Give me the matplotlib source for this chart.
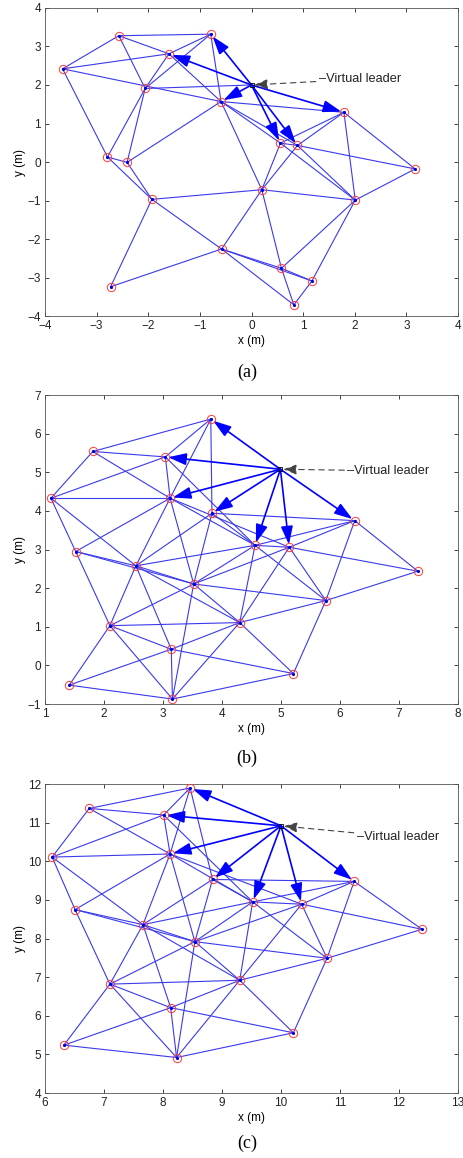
import matplotlib
matplotlib.use("Agg")
import matplotlib.pyplot as plt

plt.rcParams['font.family'] = ['Liberation Sans', 'DejaVu Sans']

# ---- panel (a) ----
a_x = [-2.57, -0.79, -1.60, -3.66, -2.06, -0.59, 1.79, 0.56, 0.89, -2.79,
       -2.41, 3.17, 0.20, -1.93, 2.01, -0.58, 0.58, 1.17, -2.73, 0.82]
a_y = [3.28, 3.32, 2.81, 2.42, 1.91, 1.57, 1.29, 0.49, 0.43, 0.13,
       -0.01, -0.18, -0.72, -0.97, -0.99, -2.26, -2.76, -3.09, -3.24, -3.71]
a_edges = [(0, 1), (0, 2), (0, 3), (0, 4), (1, 2), (1, 4), (1, 5), (2, 3), (2, 4),
           (2, 5), (3, 5), (3, 9), (4, 9), (4, 10), (5, 10), (5, 6), (5, 7), (5, 8),
           (5, 12), (6, 7), (6, 8), (6, 11), (6, 14), (7, 8), (7, 12), (8, 12),
           (8, 11), (7, 14), (8, 14), (11, 14), (12, 13), (12, 14), (12, 15),
           (12, 16), (9, 10), (9, 13), (10, 13), (13, 15), (13, 18), (15, 18),
           (15, 16), (15, 17), (14, 16), (14, 17), (16, 19), (17, 19), (15, 19),
           (16, 17)]
a_leader = (0.0, 2.0)
a_leader_links = [4]
a_arrows = [1, 2, 5, 6, 7, 8]

# ---- panels (b) and (c) share the same graph ----
bc_edges_1based = [
    (1, 2), (1, 3), (1, 5), (1, 6),
    (2, 3), (2, 4), (2, 5),
    (3, 4), (3, 5), (3, 8),
    (4, 5), (4, 10), (4, 12),
    (5, 10), (5, 12), (5, 13), (5, 8), (5, 9),
    (6, 12), (6, 13), (6, 8), (6, 7),
    (7, 8), (7, 9), (7, 11), (7, 14),
    (8, 9), (8, 12), (8, 13), (8, 14), (8, 16),
    (9, 11), (9, 13), (9, 14), (9, 16),
    (10, 12), (10, 13), (10, 15),
    (12, 13), (12, 15), (12, 16), (12, 17),
    (13, 14), (13, 15), (13, 16), (13, 20),
    (14, 16), (14, 18), (14, 11),
    (15, 16), (15, 17), (15, 19), (15, 20),
    (16, 17), (16, 18), (16, 20),
    (17, 18), (17, 19), (17, 20),
    (19, 20), (18, 20)]
bc_edges = [(i - 1, j - 1) for i, j in bc_edges_1based]
bc_arrows = [0, 2, 4, 5, 6, 7, 8]

b_x = [3.81, 1.81, 3.04, 1.10, 3.12, 3.83, 6.25, 4.56, 5.14, 1.52,
       7.32, 2.54, 3.52, 5.76, 2.10, 4.30, 3.14, 5.21, 1.41, 3.16]
b_y = [6.38, 5.54, 5.40, 4.33, 4.33, 3.94, 3.75, 3.11, 3.06, 2.95,
       2.44, 2.58, 2.11, 1.68, 1.03, 1.11, 0.42, -0.21, -0.51, -0.87]
b_leader = (4.99, 5.08)

c_x = [8.46, 6.75, 8.01, 6.12, 8.12, 8.84, 11.24, 9.52, 10.35, 6.51,
       12.39, 7.66, 8.54, 10.78, 7.10, 9.30, 8.13, 10.21, 6.32, 8.23]
c_y = [11.90, 11.37, 11.20, 10.11, 10.19, 9.53, 9.48, 8.95, 8.89, 8.75,
       8.24, 8.36, 7.92, 7.49, 6.82, 6.92, 6.21, 5.56, 5.24, 4.92]
c_leader = (10.0, 10.92)

panels = [
    dict(x=a_x, y=a_y, edges=a_edges, leader=a_leader, links=a_leader_links,
         arrows=a_arrows, xlim=(-4, 4), ylim=(-4, 4), text=(1.3, 2.15),
         caption='(a)', rect=[0.0972, 0.7271, 0.892, 0.266], cap_y=1 - 372 / 1158),
    dict(x=b_x, y=b_y, edges=bc_edges, leader=b_leader, links=[],
         arrows=bc_arrows, xlim=(1, 8), ylim=(-1, 7), text=(6.12, 5.04),
         caption='(b)', rect=[0.0972, 0.392, 0.892, 0.2668], cap_y=1 - 758 / 1158),
    dict(x=c_x, y=c_y, edges=bc_edges, leader=c_leader, links=[],
         arrows=bc_arrows, xlim=(6, 13), ylim=(4, 12), text=(11.28, 10.63),
         caption='(c)', rect=[0.0972, 0.0561, 0.892, 0.2668], cap_y=1 - 1143 / 1158),
]

fig = plt.figure(figsize=(4.63, 11.58), dpi=100)
edge_col = '#3a3aee'

for p in panels:
    ax = fig.add_axes(p['rect'])
    x, y = p['x'], p['y']
    lx, ly = p['leader']
    for i, j in p['edges']:
        ax.plot([x[i], x[j]], [y[i], y[j]], color=edge_col, lw=0.8, zorder=2)
    for i in p['links']:
        ax.plot([x[i], lx], [y[i], ly], color=edge_col, lw=0.8, zorder=2)
    for t in p['arrows']:
        ax.annotate('', xy=(x[t], y[t]), xytext=(lx, ly), zorder=3,
                    arrowprops=dict(arrowstyle='-|>,head_length=1.0,head_width=0.33',
                                    color='#0000ff', lw=1.2, shrinkA=0, shrinkB=2,
                                    mutation_scale=11))
    ax.plot(x, y, 'o', ms=6, mfc='none', mec='#ff3b3b', mew=0.7, zorder=4)
    ax.plot(x, y, '.', ms=2.5, color='#0000cc', zorder=5)
    ax.plot([lx], [ly], 's', ms=3.5, mfc='none', mec='k', mew=0.6, zorder=5)
    ax.annotate('–Virtual leader', xy=(lx, ly), xytext=p['text'], ha='left', va='center',
                fontsize=9.2, color='#222222', zorder=6,
                arrowprops=dict(arrowstyle='-|>,head_length=0.8,head_width=0.3',
                                color='#444444', lw=0.8, ls=(0, (5, 4)), shrinkA=0, shrinkB=2,
                                mutation_scale=10))
    ax.set_xlim(*p['xlim'])
    ax.set_ylim(*p['ylim'])
    ax.set_xticks(range(p['xlim'][0], p['xlim'][1] + 1))
    ax.set_yticks(range(p['ylim'][0], p['ylim'][1] + 1))
    ax.tick_params(direction='in', top=True, right=True, labelsize=8.5,
                   length=3, width=0.6, colors='#222222', pad=3)
    for s in ax.spines.values():
        s.set_linewidth(0.6)
        s.set_color('#555555')
    ax.set_xlabel('x (m)', fontsize=8.5, labelpad=2)
    ax.set_ylabel('y (m)', fontsize=8.5, labelpad=1)
    fig.text(0.533, p['cap_y'], p['caption'], ha='center', va='center',
             family='Liberation Serif', fontsize=13)

fig.savefig('out.png', dpi=100)
